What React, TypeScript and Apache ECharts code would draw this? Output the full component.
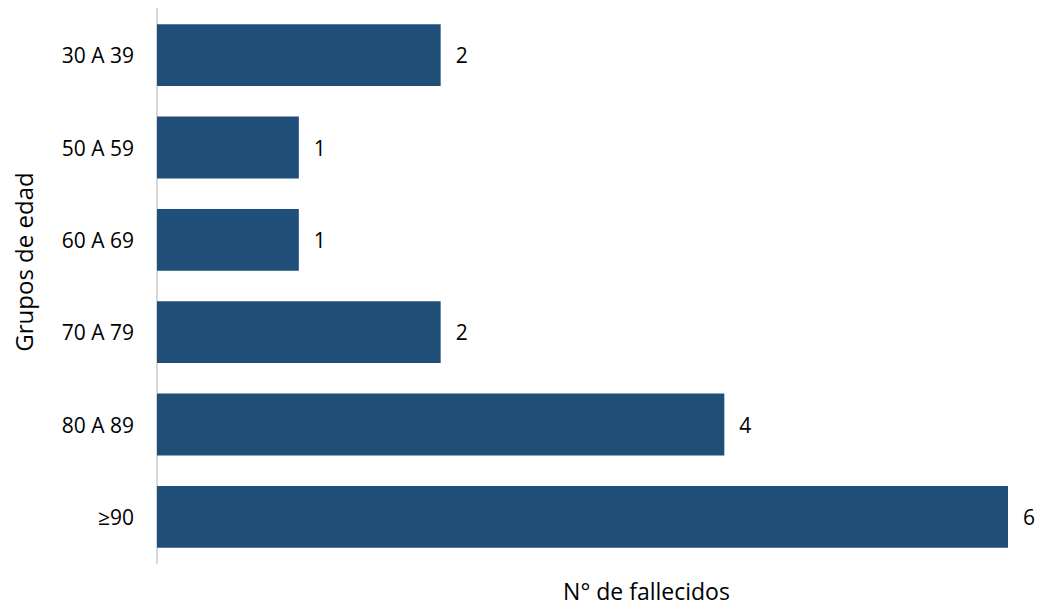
import React, { useEffect, useRef } from "react";
import * as echarts from "echarts";

const categories = ["30 A 39", "50 A 59", "60 A 69", "70 A 79", "80 A 89", "≥90"];
const values = [2, 1, 1, 2, 4, 6];
const xAxisName = "N° de fallecidos";
const yAxisName = "Grupos de edad";

const FONT = "'Open Sans', sans-serif";

export default function App() {
  const ref = useRef<HTMLDivElement>(null);
  useEffect(() => {
    if (!ref.current) return;
    const chart = echarts.init(ref.current, undefined, { renderer: "svg", width: 1040, height: 607 });
    chart.setOption({
      animation: false,
      textStyle: { fontFamily: FONT },
      grid: { left: 157, right: 32, top: 9, bottom: 33, containLabel: false },
      xAxis: {
        type: "value",
        min: 0,
        max: 6,
        name: xAxisName,
        nameLocation: "middle",
        nameGap: 16,
        nameTextStyle: {
          fontSize: 23,
          color: "#000",
          fontFamily: FONT,
          verticalAlign: "top",
          padding: [0, 0, 0, 128],
        },
        axisLabel: { show: false },
        axisLine: { show: false },
        axisTick: { show: false },
        splitLine: { show: false },
      },
      yAxis: {
        type: "category",
        data: categories,
        inverse: true,
        name: yAxisName,
        nameLocation: "middle",
        nameGap: 122,
        nameTextStyle: { fontSize: 24, color: "#000", fontFamily: FONT, padding: [0, 0, 0, 48] },
        axisLabel: { fontSize: 21, color: "#000", margin: 23, fontFamily: FONT },
        axisLine: { show: true, lineStyle: { color: "#d9d9d9", width: 2 } },
        axisTick: { show: false },
      },
      series: [
        {
          type: "bar",
          data: values,
          barCategoryGap: "33%",
          itemStyle: { color: "#1f4e79" },
          label: {
            show: true,
            position: "right",
            distance: 15,
            fontSize: 21,
            color: "#000",
            fontFamily: FONT,
          },
        },
      ],
    });
    return () => chart.dispose();
  }, []);
  return (
    <div
      ref={ref}
      style={{ position: "absolute", left: 0, top: 0, width: 1040, height: 607 }}
    />
  );
}
